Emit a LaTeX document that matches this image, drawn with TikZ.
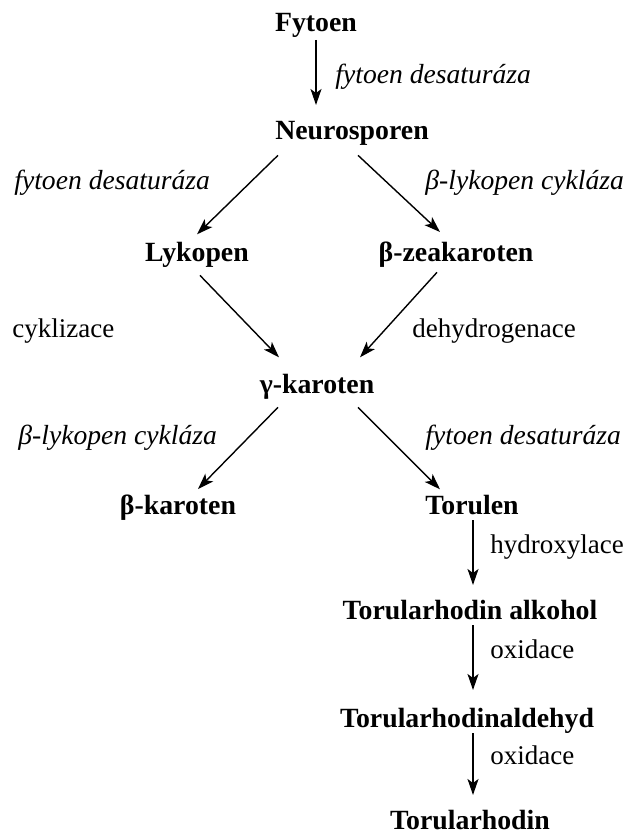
\documentclass[tikz,border=0pt]{standalone}
\usepackage{fontspec}
\setmainfont{Liberation Serif}
\usepackage{tikz}
\usetikzlibrary{arrows.meta,calc,positioning}
\tikzset{
  chem/.style={font=\fontsize{13.9}{16}\selectfont\bfseries, inner sep=0pt, anchor=base},
  enz/.style={font=\fontsize{13.8}{16}\selectfont\itshape, inner sep=0pt, anchor=base west},
  rxn/.style={font=\fontsize{13.5}{16}\selectfont, inner sep=0pt, anchor=base west},
  arr/.style={line width=0.7pt, -{Stealth[length=8pt,width=5.5pt,inset=2pt]}}
}

\begin{document}
\begin{tikzpicture}[x=0.5pt,y=-0.5pt]
        \useasboundingbox (0,0) rectangle (632,834);

        % compounds
        \node[chem] (fytoen) at (316,32) {Fytoen};
        \node[chem] (neuro) at (352,140) {Neurosporen};
        \node[chem] (lyk) at (197,261) {Lykopen};
        \node[chem] (zea) at (456,261) {β-zeakaroten};
        \node[chem] (gam) at (317,393) {γ-karoten};
        \node[chem] (bkar) at (178,514) {β-karoten};
        \node[chem] (tor) at (472,514) {Torulen};
        \node[chem] (alk) at (470,619) {Torularhodin alkohol};
        \node[chem] (ald) at (467,727) {Torularhodinaldehyd};
        \node[chem] (rho) at (470,829) {Torularhodin};

        % enzymes and reactions
        \node[enz] (e1) at (335,84) {fytoen desaturáza};
        \node[enz] (e2) at (14,190) {fytoen desaturáza};
        \node[enz] (e3) at (425,190) {β-lykopen cykláza};
        \node[rxn] (r1) at (12,337) {cyklizace};
        \node[rxn] (r2) at (412,337) {dehydrogenace};
        \node[enz] (e4) at (18,444) {β-lykopen cykláza};
        \node[enz] (e5) at (425,444) {fytoen desaturáza};
        \node[rxn] (r3) at (490,553) {hydroxylace};
        \node[rxn] (r4) at (490,658) {oxidace};
        \node[rxn] (r5) at (490,764) {oxidace};

        \draw[arr] ($(fytoen.base)+(0,8)$) -- ($(fytoen.base)+(0,73)$);
        \draw[arr] ($(neuro.south)+(-74,9)$) -- ($(lyk.north)+(0,-7)$);
        \draw[arr] ($(neuro.south)+(6,9)$) -- ($(zea.north)+(-16,-9)$);
        \draw[arr] ($(lyk.south)+(3,8)$) -- ($(gam.north)+(-38,-16)$);
        \draw[arr] ($(zea.south)+(-19,5)$) -- ($(gam.north)+(43,-16)$);
        \draw[arr] ($(gam.south)+(-39,8)$) -- ($(bkar.north)+(20,-5)$);
        \draw[arr] ($(gam.south)+(41,8)$) -- ($(tor.north)+(-32,-5)$);
        \draw[arr] ($(tor.base)+(1,6)$) -- ($(tor.base)+(1,71)$);
        \draw[arr] ($(alk.base)+(3,6)$) -- ($(alk.base)+(3,71)$);
        \draw[arr] ($(ald.base)+(6,6)$) -- ($(ald.base)+(6,68)$);
    \end{tikzpicture}
\end{document}
